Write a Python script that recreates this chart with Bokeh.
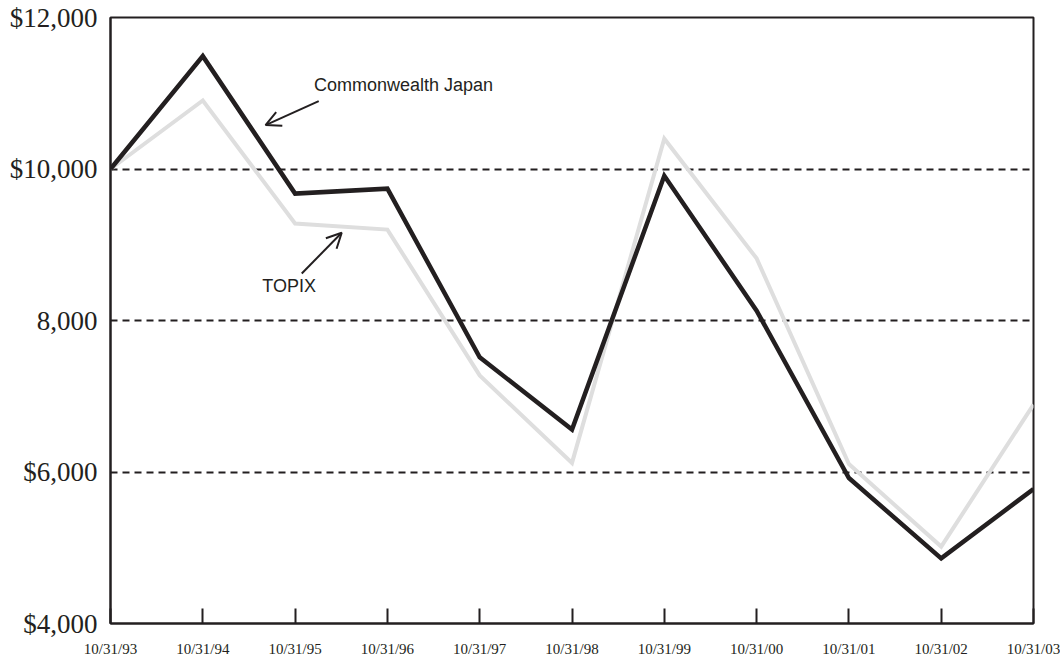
from bokeh.plotting import figure
from bokeh.models import Range1d, FixedTicker, Arrow, OpenHead, Label
from bokeh.embed import file_html
from bokeh.resources import INLINE

# Growth of a $10,000 investment, fiscal year ends
dates = ["10/31/93", "10/31/94", "10/31/95", "10/31/96", "10/31/97", "10/31/98",
         "10/31/99", "10/31/00", "10/31/01", "10/31/02", "10/31/03"]
commonwealth_japan = [10000, 11490, 9675, 9740, 7515, 6560, 9910, 8130, 5920, 4860, 5775]
topix = [10000, 10905, 9280, 9200, 7275, 6120, 10400, 8820, 6105, 5015, 6890]
y_ticks = [4000, 6000, 8000, 10000, 12000]
y_tick_labels = ["$4,000", "$6,000", "8,000", "$10,000", "$12,000"]
grid_values = [6000, 8000, 10000]

x = list(range(len(dates)))
INK = "#231f20"

p = figure(width=1060, height=660, output_backend="svg", toolbar_location=None,
           x_range=Range1d(0, len(dates) - 1), y_range=Range1d(4000, 12000),
           min_border_left=110, min_border_right=27, min_border_top=17, min_border_bottom=37)
p.background_fill_color = "white"
p.border_fill_color = "white"
p.outline_line_color = INK
p.outline_line_width = 2

# dashed horizontal guides
p.xgrid.grid_line_color = None
p.ygrid.ticker = FixedTicker(ticks=grid_values)
p.ygrid.grid_line_color = INK
p.ygrid.grid_line_width = 2
p.ygrid.grid_line_dash = "7 5"

# x axis: short ticks pointing into the plot, dates below
p.xaxis.ticker = FixedTicker(ticks=x)
p.xaxis.major_label_overrides = {i: d for i, d in enumerate(dates)}
p.xaxis.major_tick_in = 15
p.xaxis.major_tick_out = 0
p.xaxis.major_tick_line_width = 2
p.xaxis.major_tick_line_color = INK
p.xaxis.minor_tick_line_color = None
p.xaxis.axis_line_color = INK
p.xaxis.axis_line_width = 2
p.xaxis.major_label_standoff = 17
p.xaxis.major_label_text_font = "Liberation Serif"
p.xaxis.major_label_text_font_size = "15px"
p.xaxis.major_label_text_color = INK

# y axis: dollar values, no tick marks
p.yaxis.ticker = FixedTicker(ticks=y_ticks)
p.yaxis.major_label_overrides = {v: s for v, s in zip(y_ticks, y_tick_labels)}
p.yaxis.major_tick_in = 0
p.yaxis.major_tick_out = 0
p.yaxis.minor_tick_line_color = None
p.yaxis.axis_line_color = INK
p.yaxis.axis_line_width = 2
p.yaxis.major_label_standoff = 13
p.yaxis.major_label_text_font = "Liberation Serif"
p.yaxis.major_label_text_font_size = "27px"
p.yaxis.major_label_text_color = INK

# series
p.line(x, topix, line_color="#dedede", line_width=4, line_join="miter")
p.line(x, commonwealth_japan, line_color=INK, line_width=4.5, line_join="miter")

# callouts
p.add_layout(Label(x=2.205, y=11115, text="Commonwealth Japan", text_font="Liberation Sans",
                   text_font_size="18px", text_color=INK, text_baseline="alphabetic"))
p.add_layout(Arrow(end=OpenHead(size=15, line_width=2, line_color=INK),
                   x_start=2.256, y_start=10895, x_end=1.68, y_end=10580,
                   line_width=2, line_color=INK))
p.add_layout(Label(x=1.645, y=8450, text="TOPIX", text_font="Liberation Sans",
                   text_font_size="18px", text_color=INK, text_baseline="alphabetic"))
p.add_layout(Arrow(end=OpenHead(size=15, line_width=2, line_color=INK),
                   x_start=2.072, y_start=8620, x_end=2.505, y_end=9158,
                   line_width=2, line_color=INK))

open("out.html", "w").write(file_html(p, INLINE))
